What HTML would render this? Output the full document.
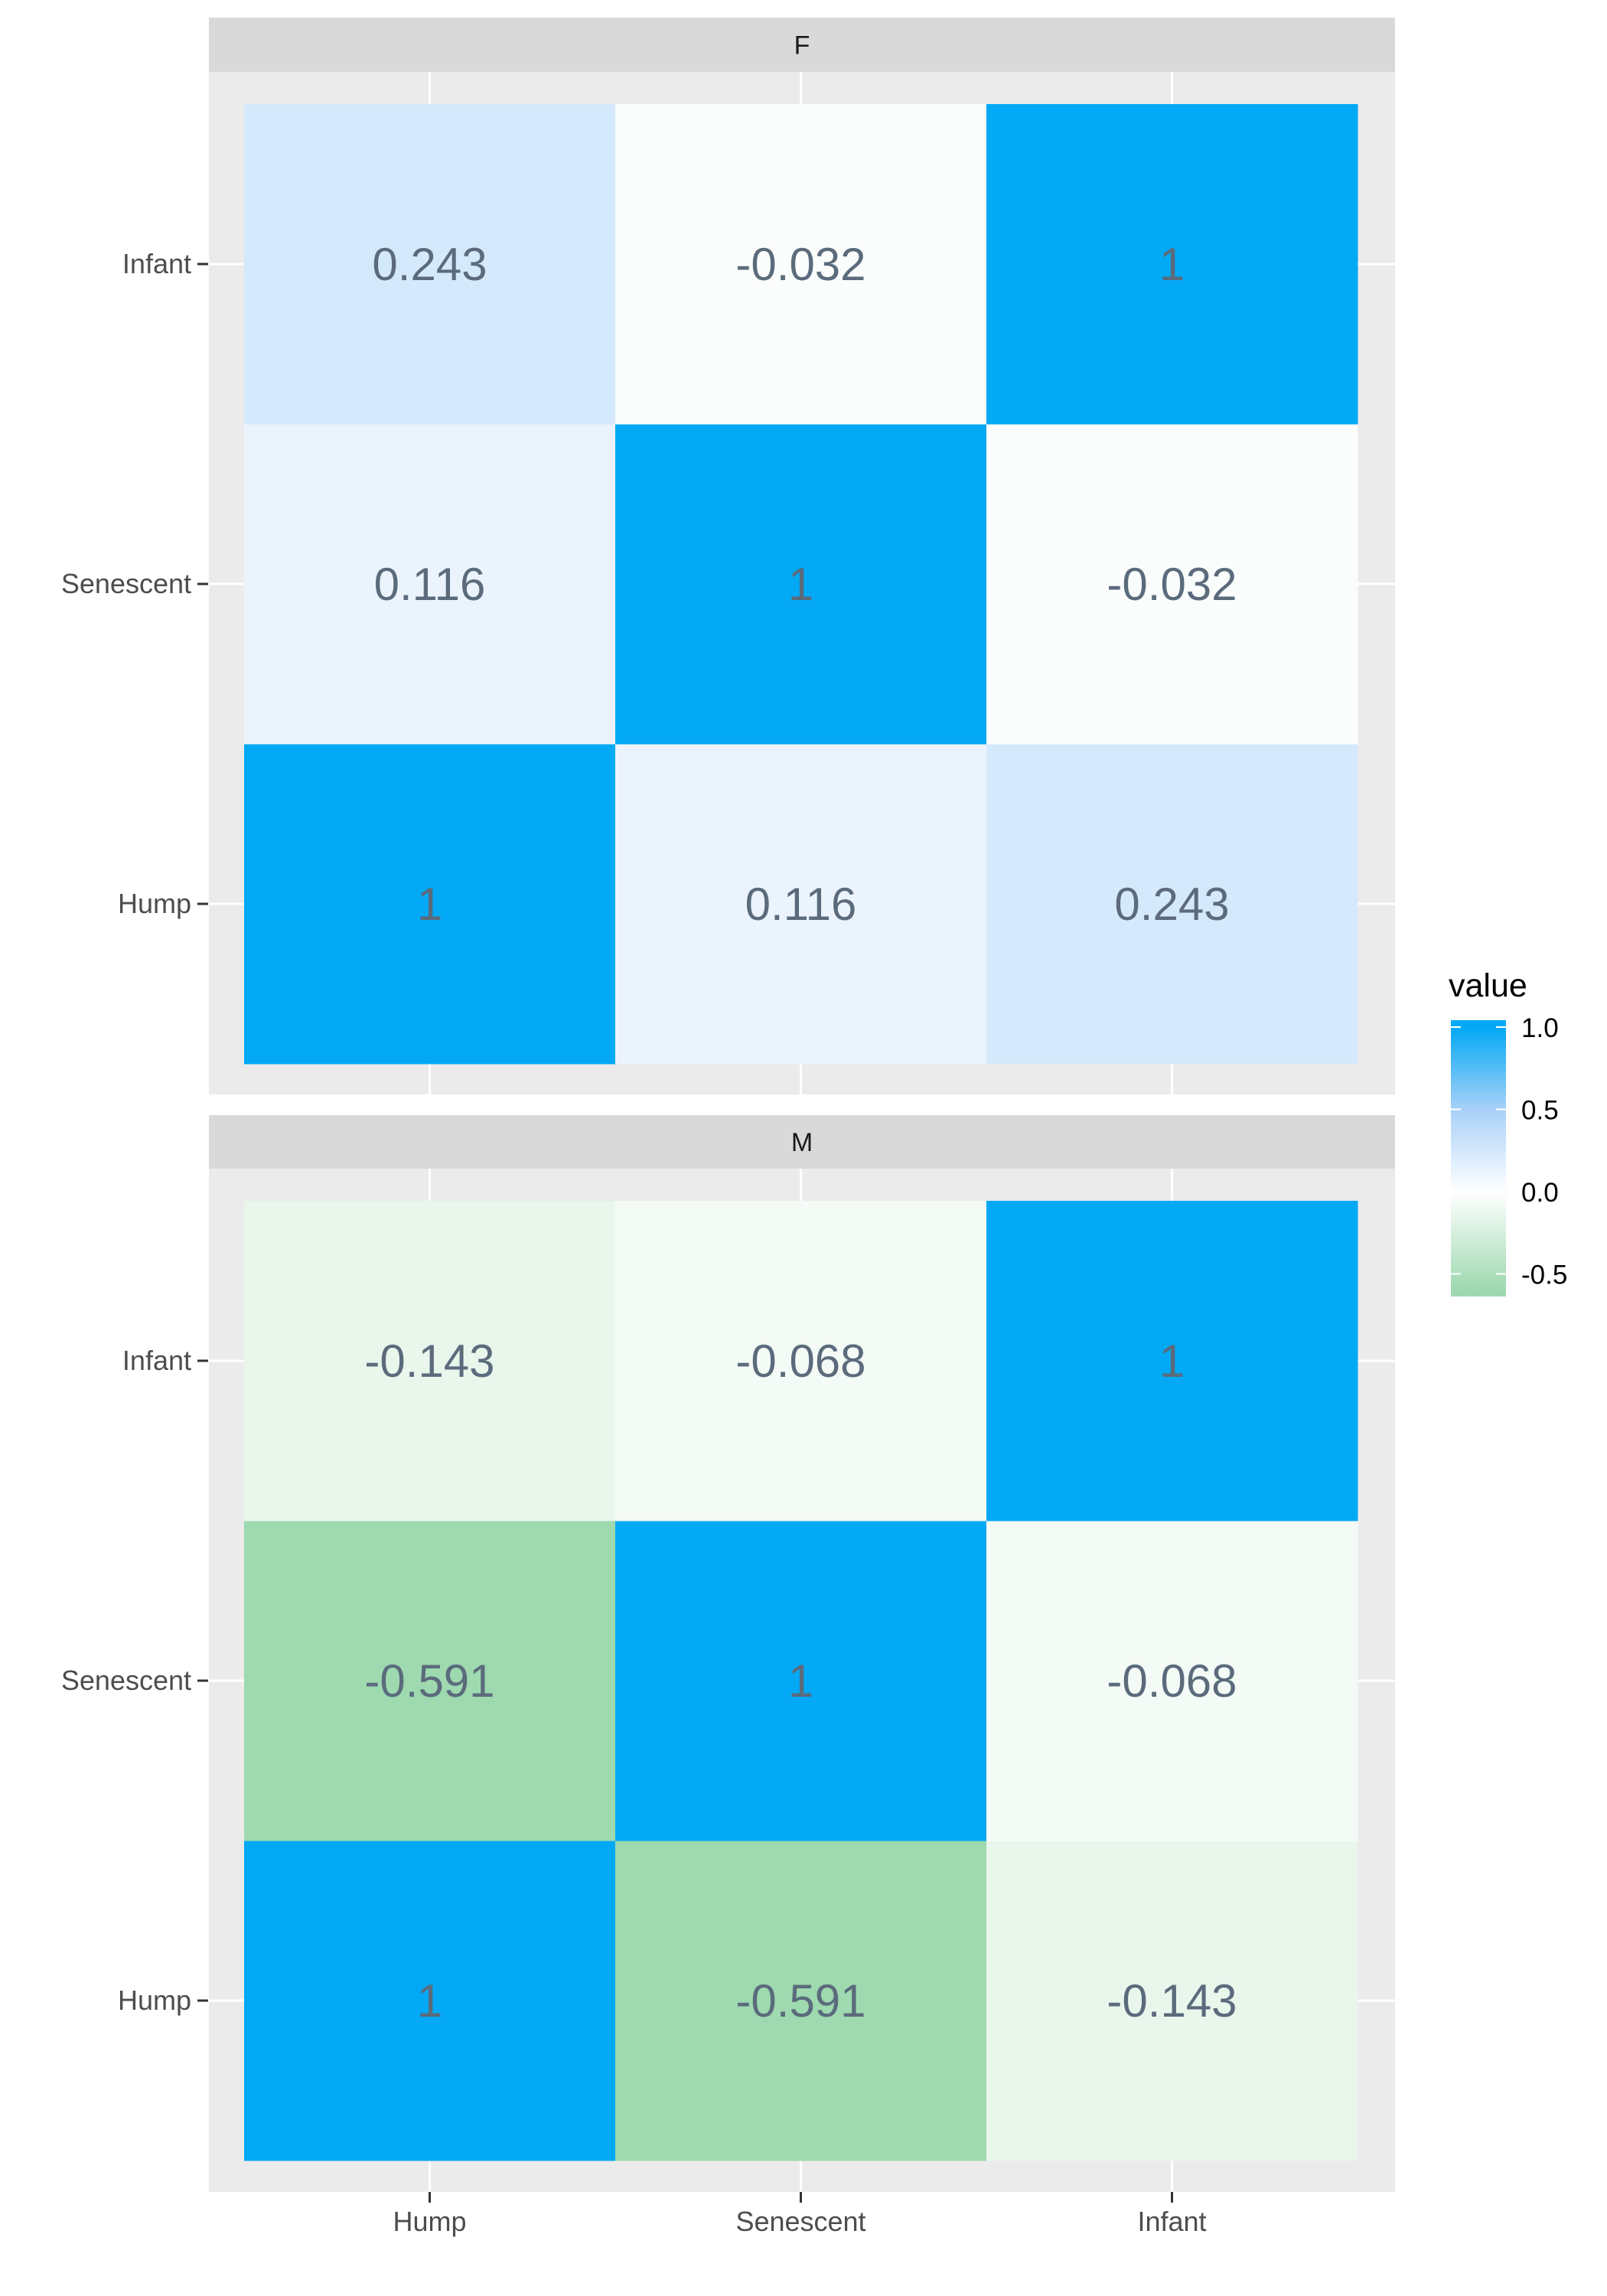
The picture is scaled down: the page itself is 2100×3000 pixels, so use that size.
<!DOCTYPE html>
<html><head><meta charset="utf-8"><style>
html,body{margin:0;padding:0;background:#fff;}
svg{display:block;font-family:"Liberation Sans",Arial,sans-serif;}
</style></head><body>
<svg id="chart" width="2100" height="3000" viewBox="0 0 2100 3000" xmlns="http://www.w3.org/2000/svg"></svg>
<script>
const categories = ["Hump","Senescent","Infant"];
const panels = ["F","M"];
// values[panel][row(y category)][col(x category)]
const valuesF = [[1,0.116,0.243],[0.116,1,-0.032],[0.243,-0.032,1]];
const valuesM = [[1,-0.591,-0.143],[-0.591,1,-0.068],[-0.143,-0.068,1]];
const labelsF = [["1","0.116","0.243"],["0.116","1","-0.032"],["0.243","-0.032","1"]];
const labelsM = [["1","-0.591","-0.143"],["-0.591","1","-0.068"],["-0.143","-0.068","1"]];
const legendTicks = [1.0,0.5,0.0,-0.5];
const legendTickLabels = ["1.0","0.5","0.0","-0.5"];

const NS="http://www.w3.org/2000/svg";
const svg=document.getElementById('chart');
function mk(tag,attrs,parent){const e=document.createElementNS(NS,tag);for(const k in attrs)e.setAttribute(k,attrs[k]);(parent||svg).appendChild(e);return e;}

const stops=[[-0.591,[158,217,176]],[0,[255,255,255]],[0.5,[169,209,248]],[1,[3,169,244]]];
function color(v){
  if(v<=stops[0][0])return rgb(stops[0][1]);
  for(let i=0;i<stops.length-1;i++){const a=stops[i],b=stops[i+1];
    if(v<=b[0]){const t=(v-a[0])/(b[0]-a[0]);return rgb(a[1].map((c,j)=>Math.round(c+(b[1][j]-c)*t)));}}
  return rgb(stops[stops.length-1][1]);
}
function rgb(c){return `rgb(${c[0]},${c[1]},${c[2]})`;}

const PX0=273,PX1=1823;
const tileX0=319,tileW=485;
const xScale=i=>tileX0+tileW*(i+0.5);
const panelDefs=[{strip:[23,94],body:[94,1430],tileTop:136,vals:valuesF,labs:labelsF},
                 {strip:[1457,1527],body:[1527,2864],tileTop:1569,vals:valuesM,labs:labelsM}];
const tileH=418;

panelDefs.forEach((p,pi)=>{
  const g=mk('g',{});
  
  
  const s=mk('rect',{x:PX0,y:p.strip[0],width:PX1-PX0,height:p.strip[1]-p.strip[0],fill:'#D9D9D9'},g);
  
  
  const st=mk('text',{x:(PX0+PX1)/2,y:(p.strip[0]+p.strip[1])/2+12,'text-anchor':'middle','font-size':34,fill:'#1A1A1A'},g);
  st.textContent=panels[pi];
  
  
  const bg=mk('rect',{x:PX0,y:p.body[0],width:PX1-PX0,height:p.body[1]-p.body[0],fill:'#EBEBEB'},g);
  
  
  const yScale=r=>p.tileTop+tileH*(2-r)+tileH/2;
  categories.forEach((c,i)=>{
    mk('line',{x1:xScale(i),x2:xScale(i),y1:p.body[0],y2:p.body[1],stroke:'#fff','stroke-width':3},g);
    mk('line',{x1:PX0,x2:PX1,y1:yScale(i),y2:yScale(i),stroke:'#fff','stroke-width':3},g);
  });
  for(let r=0;r<3;r++)for(let c=0;c<3;c++){
    const v=p.vals[r][c];
    const t=mk('rect',{x:xScale(c)-tileW/2,y:yScale(r)-tileH/2,width:tileW+0.5,height:tileH+0.5,fill:color(v)},g);
    
    
    const tx=mk('text',{x:xScale(c),y:yScale(r)+21,'text-anchor':'middle','font-size':60,fill:'#5B6B7C'},g);
    tx.textContent=p.labs[r][c];
    
    
  }
  categories.forEach((c,i)=>{
    mk('line',{x1:258,x2:272,y1:yScale(i),y2:yScale(i),stroke:'#333','stroke-width':3},g);
    const yl=mk('text',{x:250,y:yScale(i)+12,'text-anchor':'end','font-size':36,fill:'#4D4D4D'},g);
    yl.textContent=c;
    
    
  });
});
categories.forEach((c,i)=>{
  mk('line',{x1:xScale(i),x2:xScale(i),y1:2864,y2:2878,stroke:'#333','stroke-width':3});
  const xl=mk('text',{x:xScale(i),y:2915,'text-anchor':'middle','font-size':36,fill:'#4D4D4D'});
  xl.textContent=c;
  
  
});

// legend
const lt=mk('text',{x:1893,y:1302,'font-size':43,fill:'#000'});
lt.textContent='value';


const defs=mk('defs',{});
const grad=mk('linearGradient',{id:'lg',x1:0,y1:1,x2:0,y2:0},defs);
const lgY=v=>1557-(v)*215;
const vBot=-0.635,vTop=1.047,barTop=1333,barBot=1694;
[-0.635,-0.591,-0.3,0,0.25,0.5,0.75,1,1.047].forEach(v=>{
  mk('stop',{offset:((v-vBot)/(vTop-vBot)).toFixed(3),'stop-color':color(v)},grad);
});
const bar=mk('rect',{x:1896,y:barTop,width:72,height:barBot-barTop,fill:'url(#lg)'});


legendTicks.forEach((v,i)=>{
  const y=lgY(v);
  mk('line',{x1:1896,x2:1909,y1:y,y2:y,stroke:'#fff','stroke-width':2});
  mk('line',{x1:1955,x2:1968,y1:y,y2:y,stroke:'#fff','stroke-width':2});
  const tl=mk('text',{x:1988,y:y+13,'font-size':35,fill:'#000'});
  tl.textContent=legendTickLabels[i];
  
  
});
</script>
</body></html>
